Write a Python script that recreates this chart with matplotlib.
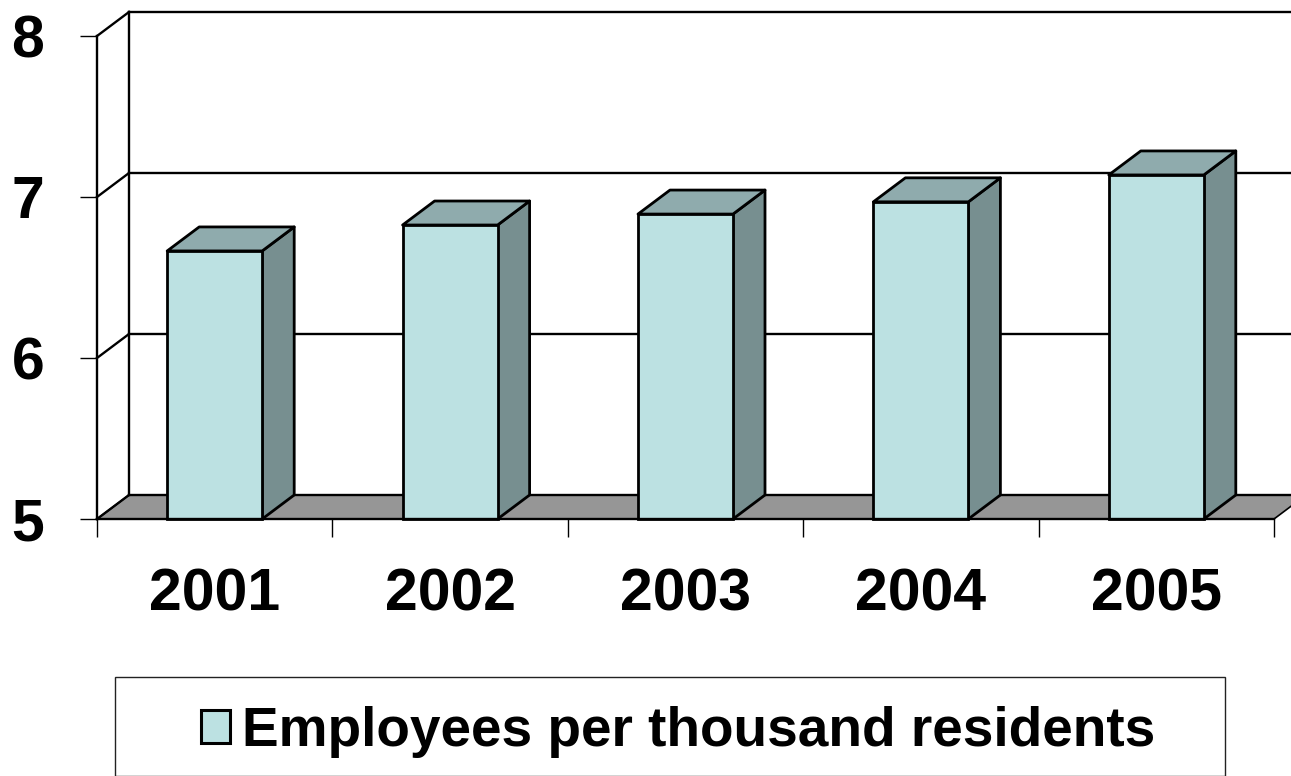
import matplotlib
matplotlib.use("Agg")
import matplotlib.pyplot as plt
from matplotlib.patches import Polygon, Rectangle, Patch

years = ["2001", "2002", "2003", "2004", "2005"]
employees = [6.665, 6.826, 6.894, 6.97, 7.137]
y_ticks = [5, 6, 7, 8]
series_name = "Employees per thousand residents"

W, H = 1291, 776
plt.rcParams["font.family"] = ["Liberation Sans", "DejaVu Sans"]
fig = plt.figure(figsize=(W / 100, H / 100), dpi=100, facecolor="white")
ax = fig.add_axes([97 / W, 1 - 519 / H, (1274 - 97) / W, (519 - 36) / H])
ax.set_xlim(0, 5)
ax.set_ylim(5, 8)
ax.patch.set_alpha(0)
for s in ("top", "right"):
    ax.spines[s].set_visible(False)
for s in ("left", "bottom"):
    ax.spines[s].set_linewidth(1.7)
    ax.spines[s].set_color("black")
    ax.spines[s].set_zorder(5)

DX, DY = 32 / 235.4, 24 / 161
BAR_W = 95 / 235.4
FRONT, TOP, SIDE, FLOOR = "#BCE1E2", "#8FABAD", "#778F90", "#969696"
LW = 2.0
GRID = 1.7

# floor
ax.add_patch(Polygon([(0, 5), (5, 5), (5 + DX, 5 + DY), (DX, 5 + DY)], closed=True,
                     facecolor=FLOOR, edgecolor="black", lw=1.2, clip_on=False, zorder=1))
# walls and gridlines
for v in y_ticks:
    ax.plot([0, DX], [v, v + DY], color="black", lw=GRID, clip_on=False, zorder=1.5)
    ax.plot([DX, 5 + DX], [v + DY, v + DY], color="black", lw=GRID, clip_on=False, zorder=1.5)
ax.plot([DX, DX], [5 + DY, 8 + DY], color="black", lw=GRID, clip_on=False, zorder=1.5)
ax.plot([5 + DX, 5 + DX], [5 + DY, 8 + DY], color="black", lw=GRID, clip_on=False, zorder=1.5)

# bars
for i, v in enumerate(employees):
    c = i + 0.5
    l, r = c - BAR_W / 2, c + BAR_W / 2
    ax.add_patch(Polygon([(r, 5), (r + DX, 5 + DY), (r + DX, v + DY), (r, v)], closed=True,
                         facecolor=SIDE, edgecolor="black", lw=LW, joinstyle="round",
                         clip_on=False, zorder=3))
    ax.add_patch(Polygon([(l, v), (r, v), (r + DX, v + DY), (l + DX, v + DY)], closed=True,
                         facecolor=TOP, edgecolor="black", lw=LW, joinstyle="round",
                         clip_on=False, zorder=3))
    ax.bar(c, v - 5, BAR_W, bottom=5, color=FRONT, edgecolor="black", lw=LW, clip_on=False, zorder=4)

ax.set_xticks(range(6))
ax.set_xticklabels([])
ax.set_xticks([i + 0.5 for i in range(5)], labels=years, minor=True)
ax.tick_params(axis="x", which="major", length=13, width=1.0, color="black")
ax.tick_params(axis="x", which="minor", length=0, pad=35, labelsize=42.5)
ax.set_yticks(y_ticks)
ax.tick_params(axis="y", length=12.5, width=1.0, pad=25.5, labelsize=42.5)
for t in ax.get_xticklabels(minor=True) + ax.get_yticklabels():
    t.set_fontweight("bold")

# legend
fig.add_artist(Rectangle((115 / W, 1 - 776 / H), (1225 - 115) / W, (776 - 677) / H,
                         transform=fig.transFigure, facecolor="white", edgecolor="#222222",
                         lw=1.0, clip_on=False))
h = Patch(facecolor=FRONT, edgecolor="black", lw=2.2, joinstyle="round")
fig.legend([h], [series_name], loc="center", bbox_to_anchor=(678 / W, 1 - 732 / H),
           frameon=False, prop={"weight": "bold", "size": 39.6},
           handlelength=0.52, handleheight=0.52, handletextpad=0.22, borderpad=0, borderaxespad=0)

fig.savefig("out.png", dpi=100)
